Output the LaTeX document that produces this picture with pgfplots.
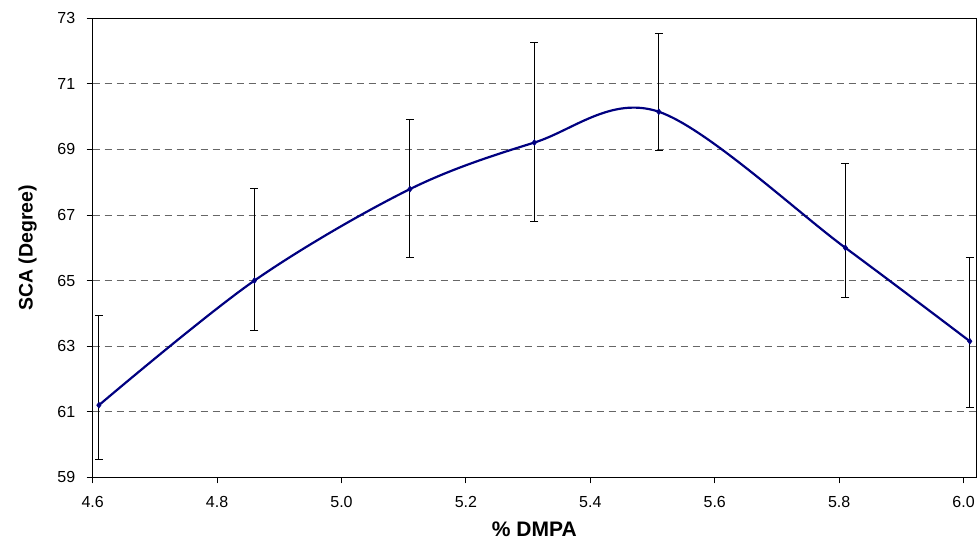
\documentclass[border=0pt]{standalone}
\usepackage{pgfplots}
\pgfplotsset{compat=1.18}
\usepackage{fontspec}
\setmainfont{Liberation Sans}
\definecolor{navyline}{RGB}{0,0,128}
\begin{document}
\begin{tikzpicture}
\path[use as bounding box] (-92.7bp,-67.7bp) rectangle (886.3bp,477.3bp);
\begin{axis}[
  at={(0,0)}, anchor=south west,
  scale only axis, width=883.3bp, height=459bp,
  xmin=4.6, xmax=6.02, ymin=59, ymax=73,
  xtick={4.6,4.8,...,6.01}, ytick={59,61,...,73},
  xticklabel style={/pgf/number format/.cd, fixed, fixed zerofill, precision=1},
  /pgf/number format/assume math mode=true,
  tick label style={font=\fontsize{16bp}{18bp}\selectfont},
  tick align=outside, tickpos=left,
  major tick length=6bp,
  axis line style={black, line width=0.9pt},
  every tick/.style={black, line width=0.9pt},
  ymajorgrids, grid style={black!60, line width=0.8pt, dash pattern=on 7bp off 5bp},
  xlabel={\bfseries\% DMPA}, ylabel={\bfseries SCA (Degree)},
  xlabel style={font=\fontsize{21bp}{23bp}\selectfont\bfseries, at={(axis description cs:0.5,-0.1135)}, anchor=center, inner sep=0pt},
  ylabel style={font=\fontsize{19.5bp}{22bp}\selectfont\bfseries, at={(axis description cs:-0.0736,0.5)}, anchor=center, rotate=0},
  xticklabel shift=10bp, yticklabel shift=8bp,
  clip=false,
]
\addplot[navyline, line width=2.2pt, smooth, tension=0.55, mark=diamond*, mark size=3bp,
  mark options={navyline, solid, line width=0.5pt},
  error bars/.cd, y dir=both, y explicit,
  error bar style={black, line width=1pt, solid},
  error mark options={rotate=90, black, mark size=4bp, line width=1pt}]
coordinates {
(4.61,61.20) += (0,2.72) -= (0,1.66)
(4.86,65.00) += (0,2.82) -= (0,1.53)
(5.11,67.79) += (0,2.12) -= (0,2.08)
(5.31,69.21) += (0,3.05) -= (0,2.42)
(5.51,70.15) += (0,2.40) -= (0,1.17)
(5.81,66.00) += (0,2.56) -= (0,1.53)
(6.01,63.15) += (0,2.55) -= (0,2.03)
};
\end{axis}
\end{tikzpicture}
\end{document}
